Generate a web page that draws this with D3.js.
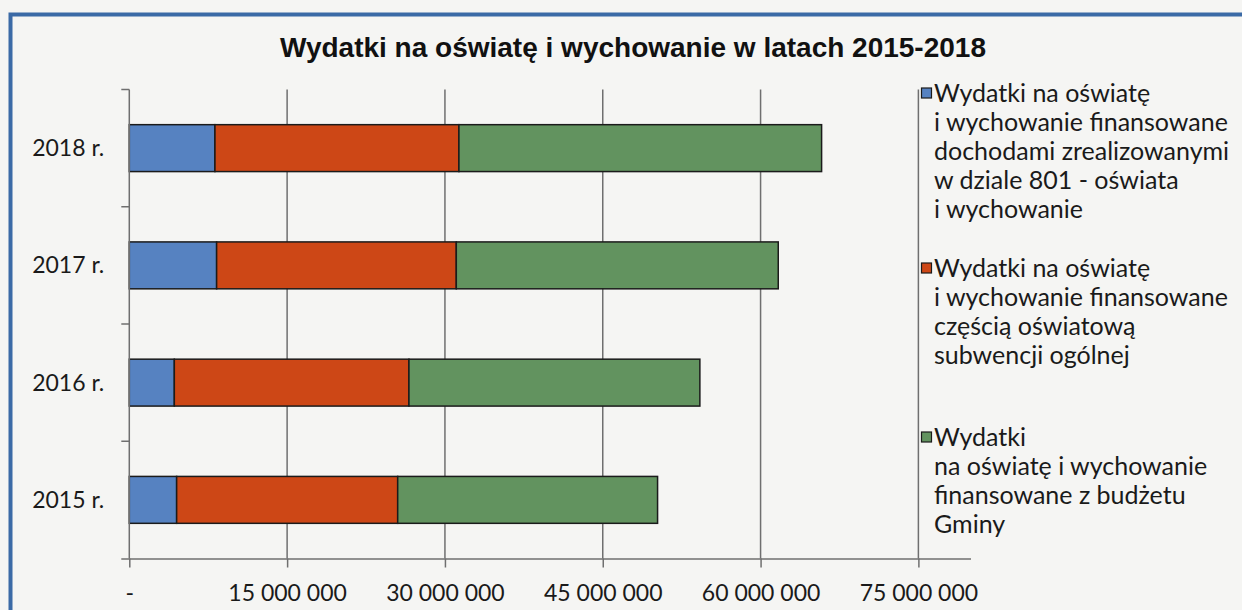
<!DOCTYPE html>
<html>
<head>
<meta charset="utf-8">
<script src="https://cdn.jsdelivr.net/npm/d3@7/dist/d3.min.js"></script>
<style>
  body { margin: 0; background: #f5f5f3; }
  svg { display: block; }
  .axis text { font-family: Lato, "Open Sans", sans-serif; font-size: 23px; fill: #1a1a1a; }
  .axis path, .axis line { stroke: #6f6f6f; stroke-width: 1.5; }
</style>
</head>
<body>
<script>
// data (PLN)
var years = ["2015 r.", "2016 r.", "2017 r.", "2018 r."];
var dochody801 = [4500000, 4280000, 8300000, 8140000];
var subwencja = [21010000, 22300000, 22780000, 23190000];
var budzetGminy = [24700000, 27650000, 30600000, 34470000];
var xTicks = [0, 15000000, 30000000, 45000000, 60000000, 75000000];
var seriesNames = ["dochody801", "subwencja", "budzetGminy"];
var seriesColors = ["#5682c1", "#cd4716", "#62935f"];
var legendLines = [
  ["Wydatki na oświatę", "i wychowanie finansowane", "dochodami zrealizowanymi", "w dziale 801 - oświata", "i wychowanie"],
  ["Wydatki na oświatę", "i wychowanie finansowane", "częścią oświatową", "subwencji ogólnej"],
  ["Wydatki", "na oświatę i wychowanie", "finansowane z budżetu", "Gminy"]
];
var title = "Wydatki na oświatę i wychowanie w latach 2015-2018";

var width = 1242, height = 610;
var plot = {left: 129.3, right: 971, top: 89.5, bottom: 558.5};

var svg = d3.select("body").append("svg")
    .attr("width", width)
    .attr("height", height);

// frame of the scanned figure
svg.append("rect")
    .attr("x", 0).attr("y", 0).attr("width", width).attr("height", height)
    .attr("fill", "#f5f5f3");
svg.append("path")
    .attr("d", "M10.5," + height + "V14.5H" + width)
    .attr("fill", "none")
    .attr("stroke", "#3b6aa6")
    .attr("stroke-width", 4);

var table = years.map(function(y, i) {
    return {year: y, dochody801: dochody801[i], subwencja: subwencja[i], budzetGminy: budzetGminy[i]};
});
var stacked = d3.stack().keys(seriesNames)(table);

var x = d3.scaleLinear().domain([0, 80000000]).range([plot.left, plot.right]);
var y = d3.scaleBand()
    .domain(years.slice().reverse())
    .range([plot.top, plot.bottom])
    .paddingInner(0.6)
    .paddingOuter(0.3);

// gridlines
svg.append("g").selectAll("line")
    .data(xTicks.filter(function(d) { return d > 0; }))
    .join("line")
    .attr("x1", function(d) { return x(d); })
    .attr("x2", function(d) { return x(d); })
    .attr("y1", plot.top)
    .attr("y2", plot.bottom)
    .attr("stroke", "#6f6f6f")
    .attr("stroke-width", 1.5);

// bars
svg.append("g").selectAll("g")
    .data(stacked)
    .join("g")
    .attr("fill", function(d, i) { return seriesColors[i]; })
    .selectAll("rect")
    .data(function(d) { return d; })
    .join("rect")
    .attr("x", function(d) { return x(d[0]); })
    .attr("width", function(d) { return x(d[1]) - x(d[0]); })
    .attr("y", function(d) { return y(d.data.year); })
    .attr("height", y.bandwidth())
    .attr("stroke", "#1b1b1b")
    .attr("stroke-width", 1.5);

// x axis
var xAxis = d3.axisBottom(x)
    .tickValues(xTicks)
    .tickSize(9)
    .tickPadding(17)
    .tickFormat(function(d) { return d === 0 ? "-" : d3.format(",")(d).replace(/,/g, " "); });
svg.append("g")
    .attr("class", "axis")
    .attr("transform", "translate(0," + plot.bottom + ")")
    .call(xAxis)
    .call(function(g) { g.select(".domain").attr("d", "M" + (plot.left - 8) + ",0.5H" + plot.right); });

// y axis
var yAxis = d3.axisLeft(y).tickSize(0).tickPadding(25);
svg.append("g")
    .attr("class", "axis")
    .attr("transform", "translate(" + plot.left + ",0)")
    .call(yAxis)
    .call(function(g) {
        g.select(".domain").attr("d", "M0," + plot.top + "V" + plot.bottom);
        g.selectAll(".tick text").attr("dy", "0.35em");
    });

// category boundary ticks
var bounds = d3.range(years.length + 1).map(function(i) { return plot.top + i * y.step(); });
svg.append("g").selectAll("line")
    .data(bounds.slice(0, -1))
    .join("line")
    .attr("x1", plot.left - 8)
    .attr("x2", plot.left)
    .attr("y1", function(d) { return d; })
    .attr("y2", function(d) { return d; })
    .attr("stroke", "#6f6f6f")
    .attr("stroke-width", 1.5);

// title
svg.append("text")
    .attr("x", 633)
    .attr("y", 57)
    .attr("text-anchor", "middle")
    .attr("font-family", "'Liberation Sans', Arial, sans-serif")
    .attr("font-weight", "bold")
    .attr("font-size", 28)
    .attr("fill", "#111")
    .text(title);

// legend
var legendTop = [93, 268, 437];
var lineH = 29;
var legend = svg.append("g")
    .attr("font-family", "Lato, 'Open Sans', sans-serif")
    .attr("font-size", 25)
    .attr("fill", "#1a1a1a");
legendLines.forEach(function(lines, i) {
    legend.append("rect")
        .attr("x", 921.5)
        .attr("y", legendTop[i] - 5)
        .attr("width", 10)
        .attr("height", 10)
        .attr("fill", seriesColors[i])
        .attr("stroke", "#1b1b1b")
        .attr("stroke-width", 1.2);
    legend.append("text")
        .selectAll("tspan")
        .data(lines)
        .join("tspan")
        .attr("x", 934)
        .attr("y", function(d, j) { return legendTop[i] + j * lineH; })
        .attr("dy", "0.35em")
        .text(function(d) { return d; });
});
</script>
</body>
</html>
